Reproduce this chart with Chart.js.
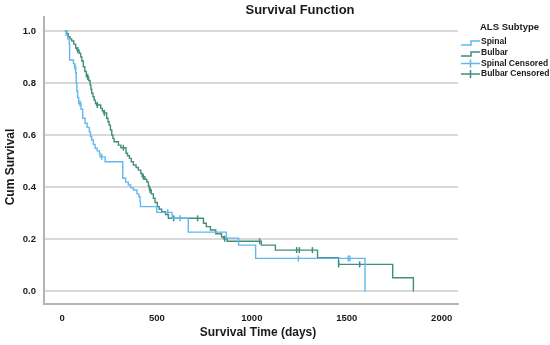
<!DOCTYPE html>
<html>
<head>
<meta charset="utf-8">
<script src="https://cdn.jsdelivr.net/npm/chart.js@4/dist/chart.umd.min.js"></script>
<style>
  html, body { margin: 0; padding: 0; background: #fff; }
  #wrap { width: 550px; height: 345px; }
</style>
</head>
<body>
<div id="wrap"><canvas id="c" width="550" height="345"></canvas></div>
<script>
// Kaplan-Meier steps: day of each drop and survival after it
var spinalDays = [15, 22, 30, 38, 40, 60, 66, 72, 75, 78, 82, 88, 100, 109, 121, 132, 144, 150, 156, 165, 174, 185, 197, 200, 227, 320, 335, 349, 362, 376, 395, 405, 411, 413, 499, 580, 665, 866, 930, 1020, 1596];
var spinalSurv = [1.0, 0.985, 0.97, 0.95, 0.889, 0.875, 0.863, 0.84, 0.80, 0.77, 0.745, 0.722, 0.70, 0.665, 0.646, 0.63, 0.613, 0.595, 0.582, 0.565, 0.55, 0.54, 0.53, 0.517, 0.498, 0.435, 0.42, 0.409, 0.398, 0.39, 0.375, 0.364, 0.345, 0.326, 0.304, 0.281, 0.228, 0.205, 0.178, 0.127, 0];
var spinalCensored = [68, 95, 209, 557, 622, 1245, 1508, 1517];

var bulbarDays = [15, 25, 33, 42, 51, 62, 72, 78, 90, 98, 104, 112, 120, 128, 140, 148, 152, 156, 163, 169, 176, 182, 204, 212, 218, 235, 242, 248, 255, 262, 268, 274, 297, 310, 337, 345, 355, 365, 376, 390, 402, 415, 422, 436, 446, 455, 460, 470, 481, 490, 502, 512, 525, 545, 560, 745, 760, 782, 810, 840, 850, 870, 1050, 1124, 1346, 1457, 1742, 1851];
var bulbarSurv = [1.0, 0.99, 0.978, 0.97, 0.962, 0.95, 0.935, 0.927, 0.915, 0.901, 0.885, 0.863, 0.845, 0.824, 0.81, 0.793, 0.777, 0.761, 0.748, 0.735, 0.722, 0.716, 0.703, 0.694, 0.686, 0.665, 0.652, 0.639, 0.62, 0.601, 0.588, 0.575, 0.562, 0.552, 0.531, 0.521, 0.511, 0.498, 0.486, 0.476, 0.466, 0.453, 0.441, 0.431, 0.421, 0.405, 0.39, 0.375, 0.358, 0.342, 0.326, 0.316, 0.306, 0.295, 0.281, 0.262, 0.249, 0.236, 0.222, 0.21, 0.203, 0.193, 0.178, 0.159, 0.13, 0.104, 0.053, 0];
var bulbarCensored = [83, 135, 186, 223, 323, 428, 464, 588, 714, 857, 1041, 1236, 1250, 1319, 1457, 1568];

var xTicks = [0, 500, 1000, 1500, 2000];
var yTicks = [0, 0.2, 0.4, 0.6, 0.8, 1.0];

var SPINAL = '#62b8ee';
var BULBAR = '#428d7f';
var FONT = '"Liberation Sans", Arial, sans-serif';

function pts(days, surv) {
  return days.map(function(d, i) { return { x: d, y: surv[i] }; });
}
// censored marks sit on the curve at that day
function survAt(days, surv, t) {
  var s = surv[0];
  for (var i = 0; i < days.length; i++) { if (days[i] <= t) s = surv[i]; }
  return s;
}
function censorPts(cens, days, surv) {
  return cens.map(function(t) { return { x: t, y: survAt(days, surv, t) }; });
}

var decor = {
  id: 'decor',
  afterDraw: function(chart) {
    var ctx = chart.ctx;
    ctx.save();
    ctx.fillStyle = '#1a1a1a';
    ctx.textAlign = 'center';
    ctx.textBaseline = 'middle';
    ctx.font = 'bold 13px ' + FONT;
    ctx.fillText('Survival Function', 300, 10);
    ctx.font = 'bold 12px ' + FONT;
    ctx.fillText('Survival Time (days)', 258, 333);
    ctx.save();
    ctx.translate(11, 167);
    ctx.rotate(-Math.PI / 2);
    ctx.fillText('Cum Survival', 0, 0);
    ctx.restore();

    // legend
    ctx.textAlign = 'left';
    ctx.font = 'bold 9.5px ' + FONT;
    ctx.fillText('ALS Subtype', 480, 27);
    ctx.font = 'bold 8.5px ' + FONT;
    var rows = [
      { label: 'Spinal', color: SPINAL, step: true, y: 42 },
      { label: 'Bulbar', color: BULBAR, step: true, y: 53 },
      { label: 'Spinal Censored', color: SPINAL, step: false, y: 63.5 },
      { label: 'Bulbar Censored', color: BULBAR, step: false, y: 74 }
    ];
    rows.forEach(function(r) {
      ctx.strokeStyle = r.color;
      ctx.lineWidth = 1.5;
      ctx.beginPath();
      if (r.step) {
        ctx.moveTo(461, r.y + 3);
        ctx.lineTo(471, r.y + 3);
        ctx.lineTo(471, r.y - 1);
        ctx.lineTo(480, r.y - 1);
      } else {
        ctx.moveTo(461, r.y);
        ctx.lineTo(480, r.y);
        ctx.moveTo(470.5, r.y - 4);
        ctx.lineTo(470.5, r.y + 4);
      }
      ctx.stroke();
      ctx.fillText(r.label, 481, r.y);
    });
    ctx.restore();
  }
};

new Chart(document.getElementById('c'), {
  type: 'scatter',
  data: {
    datasets: [
      { label: 'Spinal', data: pts(spinalDays, spinalSurv), showLine: true, stepped: 'before',
        borderColor: SPINAL, borderWidth: 1.4, pointRadius: 0, fill: false },
      { label: 'Bulbar', data: pts(bulbarDays, bulbarSurv), showLine: true, stepped: 'before',
        borderColor: BULBAR, borderWidth: 1.4, pointRadius: 0, fill: false },
      { label: 'Spinal Censored', data: censorPts(spinalCensored, spinalDays, spinalSurv),
        pointStyle: 'line', rotation: 90, pointRadius: 3, borderColor: SPINAL, borderWidth: 1.5 },
      { label: 'Bulbar Censored', data: censorPts(bulbarCensored, bulbarDays, bulbarSurv),
        pointStyle: 'line', rotation: 90, pointRadius: 3, borderColor: BULBAR, borderWidth: 1.5 }
    ]
  },
  options: {
    responsive: false,
    animation: false,
    devicePixelRatio: 1,
    layout: { padding: { top: 17, right: 92, left: 0, bottom: 0 } },
    plugins: { legend: { display: false }, title: { display: false }, tooltip: { enabled: false } },
    scales: {
      x: {
        type: 'linear', min: -95, max: 2086,
        afterBuildTicks: function(s) { s.ticks = xTicks.map(function(v) { return { value: v }; }); },
        afterFit: function(s) { s.height = 41; },
        grid: { display: false, drawTicks: false },
        border: { display: true, color: '#b4b4b4', width: 2 },
        ticks: { padding: 9, color: '#1a1a1a', font: { family: FONT, size: 9.5, weight: 'bold' },
                 maxRotation: 0, callback: function(v) { return String(v); } }
      },
      y: {
        type: 'linear', min: -0.048, max: 1.054,
        afterBuildTicks: function(s) { s.ticks = yTicks.map(function(v) { return { value: v }; }); },
        afterFit: function(s) { s.width = 44; },
        grid: { color: '#d9d9d9', lineWidth: 2, drawTicks: false },
        border: { display: true, color: '#b4b4b4', width: 2 },
        ticks: { padding: 8, color: '#1a1a1a', font: { family: FONT, size: 9.5, weight: 'bold' },
                 callback: function(v) { return v.toFixed(1); } }
      }
    }
  },
  plugins: [decor]
});
</script>
</body>
</html>
